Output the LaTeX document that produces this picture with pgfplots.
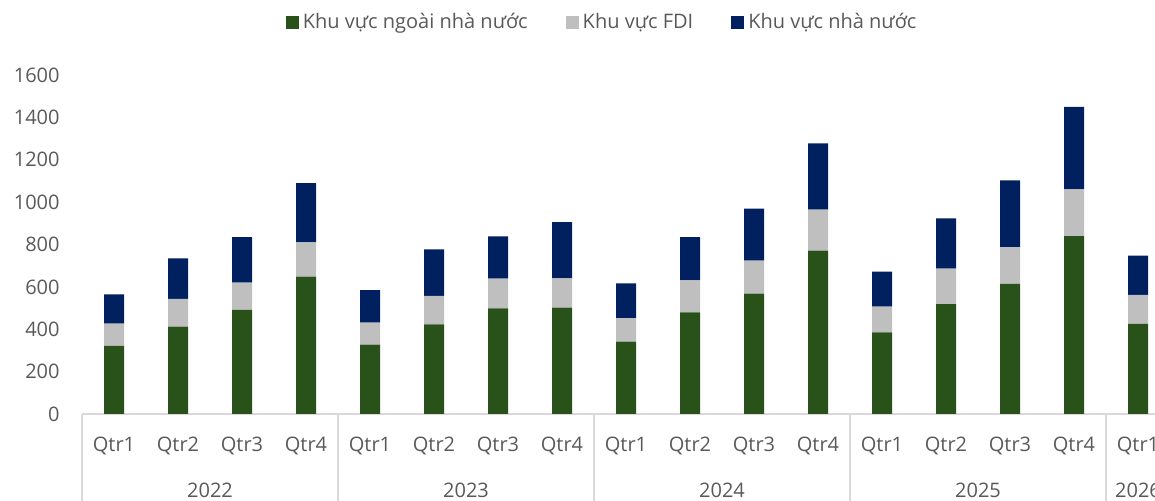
\documentclass[border=0pt]{standalone}
\usepackage{pgfplots}
\pgfplotsset{compat=1.18}
\usepackage{fontspec}
\setmainfont{Open Sans}
\definecolor{cgreen}{HTML}{285219}
\definecolor{cgray}{HTML}{BFBFBF}
\definecolor{cnavy}{HTML}{002060}
\definecolor{ctext}{HTML}{595959}
\definecolor{cline}{HTML}{D9D9D9}
\begin{document}
\begin{tikzpicture}
\useasboundingbox (0,0) rectangle (577.5pt,250.5pt);
\clip (0,0) rectangle (577.5pt,250.5pt);
\begin{axis}[
  at={(41pt,43.5pt)}, anchor=south west,
  scale only axis, width=544pt, height=169.5pt,
  xmin=-0.5, xmax=16.5, ymin=0, ymax=1600,
  clip=false,
  ybar stacked, bar width=10pt,
  axis x line*=bottom, axis y line*=left,
  x axis line style={draw=cline, line width=0.75pt},
  y axis line style={draw=none},
  ytick={0,200,...,1600},
  ytick style={draw=none},
  xtick={0,...,16},
  xticklabels={Qtr1,Qtr2,Qtr3,Qtr4,Qtr1,Qtr2,Qtr3,Qtr4,Qtr1,Qtr2,Qtr3,Qtr4,Qtr1,Qtr2,Qtr3,Qtr4,Qtr1},
  xtick style={draw=none},
  /pgf/number format/assume math mode=true,
  /pgf/number format/1000 sep={},
  tick label style={font=\fontsize{10}{12}\selectfont, text=ctext},
  yticklabel style={anchor=east, inner sep=0pt, xshift=-11pt},
  xticklabel style={anchor=center, yshift=-16pt},
  legend style={at={(0.479,1.156)}, anchor=center, draw=none, fill=none,
    legend columns=-1, font=\fontsize{10}{12}\selectfont, text=ctext,
    /tikz/every even column/.append style={column sep=17pt}},
  legend image code/.code={\fill[#1, draw=none] (0pt,-3.25pt) rectangle (6.5pt,3.25pt);},
]
\addplot[fill=cgreen, draw=none] coordinates {
 (0,322) (1,412) (2,492) (3,648) (4,327) (5,423) (6,499) (7,502) (8,341) (9,480) (10,568) (11,771) (12,385) (13,518) (14,614) (15,840) (16,425)};
\addplot[fill=cgray, draw=none] coordinates {
 (0,104) (1,131) (2,128) (3,162) (4,104) (5,134) (6,140) (7,138) (8,112) (9,151) (10,156) (11,193) (12,122) (13,168) (14,174) (15,220) (16,137)};
\addplot[fill=cnavy, draw=none] coordinates {
 (0,139) (1,192) (2,215) (3,280) (4,154) (5,220) (6,199) (7,265) (8,164) (9,204) (10,245) (11,313) (12,165) (13,237) (14,315) (15,389) (16,185)};
\legend{Khu vực ngoài nhà nước, Khu vực FDI, Khu vực nhà nước}
\draw[cline, line width=0.75pt] (axis cs:-0.5,0) -- ++(0pt,-44pt);
\draw[cline, line width=0.75pt] (axis cs:3.5,0) -- ++(0pt,-44pt);
\draw[cline, line width=0.75pt] (axis cs:7.5,0) -- ++(0pt,-44pt);
\draw[cline, line width=0.75pt] (axis cs:11.5,0) -- ++(0pt,-44pt);
\draw[cline, line width=0.75pt] (axis cs:15.5,0) -- ++(0pt,-44pt);
\node[font=\fontsize{10}{12}\selectfont, text=ctext, yshift=-38pt] at (axis cs:1.5,0) {2022};
\node[font=\fontsize{10}{12}\selectfont, text=ctext, yshift=-38pt] at (axis cs:5.5,0) {2023};
\node[font=\fontsize{10}{12}\selectfont, text=ctext, yshift=-38pt] at (axis cs:9.5,0) {2024};
\node[font=\fontsize{10}{12}\selectfont, text=ctext, yshift=-38pt] at (axis cs:13.5,0) {2025};
\node[font=\fontsize{10}{12}\selectfont, text=ctext, yshift=-38pt] at (axis cs:16,0) {2026};
\end{axis}
\end{tikzpicture}
\end{document}
